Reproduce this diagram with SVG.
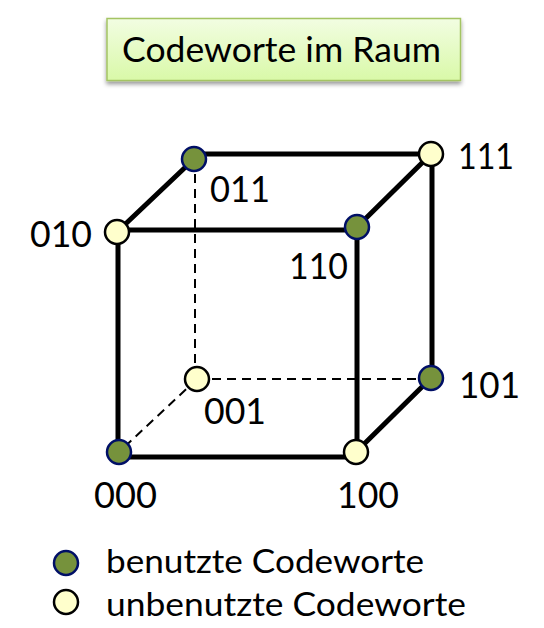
<svg xmlns="http://www.w3.org/2000/svg" width="544" height="628" viewBox="0 0 544 628">
<style>
text{font-family:"Lato","Liberation Sans",sans-serif;fill:#000}
.l{font-size:36px}
.k{font-size:32px}
.s{stroke:#000;stroke-width:5;fill:none;stroke-linecap:butt}
.d{stroke:#000;stroke-width:2;fill:none;stroke-dasharray:9 6}
.u{fill:#76923c;stroke:#000f66;stroke-width:2.5}
.f{fill:#ffffcc;stroke:#000;stroke-width:2.5}
</style>
<defs>
<linearGradient id="g" x1="0" y1="0" x2="0" y2="1"><stop offset="0" stop-color="#f2fde2"/><stop offset="1" stop-color="#d9f9a8"/></linearGradient>
<filter id="sh" x="-5%" y="-20%" width="110%" height="150%"><feDropShadow dx="0" dy="3" stdDeviation="2" flood-color="#000" flood-opacity=".4"/></filter>
</defs>
<g id="title"><rect x="107" y="18.500" width="353.500" height="62" fill="url(#g)" stroke="#a4c464" stroke-width="1.500" filter="url(#sh)"/><text x="122" y="62" font-size="35" textLength="319" lengthAdjust="spacingAndGlyphs">Codeworte im Raum</text></g>
<g id="connectors">
<path class="d" d="M195 159V379M197 379H431M197 379L119 452"/>
<path class="s" d="M194 154H431M117 230H357M119 457H356M118 232V452M357 227V452M432 154V378M194 159L117 232M431 154L357 227M431 378L356 452"/>
</g>
<g id="n011"><circle class="u" cx="194" cy="159" r="12"/><text class="l" x="210" y="202" textLength="60" lengthAdjust="spacingAndGlyphs">011</text></g>
<g id="n111"><circle class="f" cx="431" cy="154" r="12"/><text class="l" x="458" y="169" textLength="56" lengthAdjust="spacingAndGlyphs">111</text></g>
<g id="n010"><circle class="f" cx="117" cy="232" r="12"/><text class="l" x="30" y="247" textLength="62" lengthAdjust="spacingAndGlyphs">010</text></g>
<g id="n110"><circle class="u" cx="357" cy="227" r="12"/><text class="l" x="289" y="279" textLength="59" lengthAdjust="spacingAndGlyphs">110</text></g>
<g id="n001"><circle class="f" cx="197" cy="379" r="12"/><text class="l" x="204" y="424" textLength="62" lengthAdjust="spacingAndGlyphs">001</text></g>
<g id="n101"><circle class="u" cx="431" cy="378" r="12"/><text class="l" x="459" y="398" textLength="61" lengthAdjust="spacingAndGlyphs">101</text></g>
<g id="n000"><circle class="u" cx="119" cy="452" r="12"/><text class="l" x="94" y="508" textLength="63" lengthAdjust="spacingAndGlyphs">000</text></g>
<g id="n100"><circle class="f" cx="356" cy="452" r="12"/><text class="l" x="337" y="508" textLength="62" lengthAdjust="spacingAndGlyphs">100</text></g>
<g id="legend-used"><circle class="u" cx="66" cy="563" r="12"/><text class="k" x="106" y="573" textLength="318" lengthAdjust="spacingAndGlyphs">benutzte Codeworte</text></g>
<g id="legend-unused"><circle class="f" cx="66" cy="602" r="12"/><text class="k" x="106" y="616" textLength="360" lengthAdjust="spacingAndGlyphs">unbenutzte Codeworte</text></g>
</svg>
